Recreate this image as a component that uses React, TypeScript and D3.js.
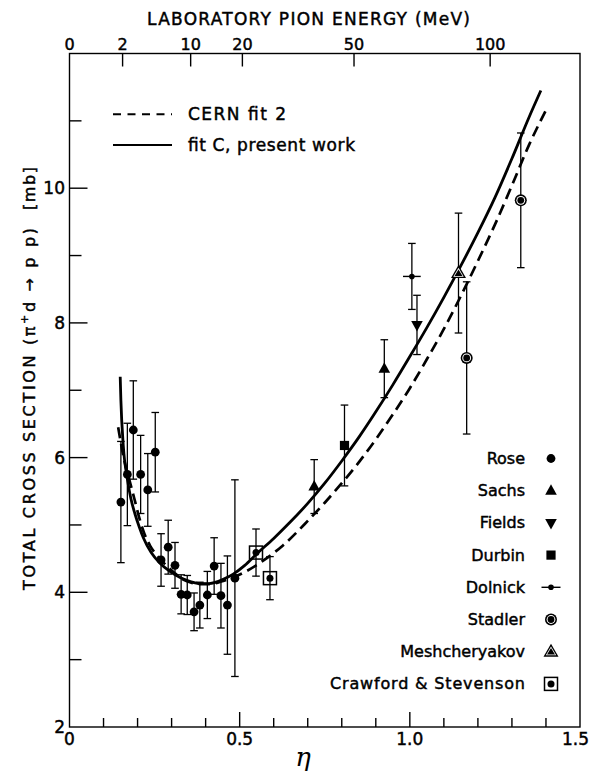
import React from 'react';
import * as d3 from 'd3';

const W = 590;
const H = 779;

// axes
const etaDomain: [number, number] = [0, 1.5];
const sigmaDomain: [number, number] = [2, 12];
const etaMinorTicks = [0.1, 0.2, 0.3, 0.4, 0.6, 0.7, 0.8, 0.9, 1.1, 1.2, 1.3, 1.4];
const etaMajorTicks = [0.5, 1.0];
const etaLabels = ['0', '0.5', '1.0', '1.5'];
const etaLabelValues = [0, 0.5, 1.0, 1.5];
const sigmaMajorTicks = [4, 6, 8, 10];
const sigmaMinorTicks = [3, 5, 7, 9, 11];
const sigmaLabels = [2, 4, 6, 8, 10];
// top axis: laboratory pion energy (MeV) and its position in eta
const energyLabels = [0, 2, 10, 20, 50, 100];
const energyEta = [0, 0.156, 0.356, 0.508, 0.836, 1.236];

// data: [eta, sigma (mb), error]
const rose = [
  [0.151, 5.34, 0.9],
  [0.17, 5.75, 0.76],
  [0.1875, 6.41, 0.73],
  [0.209, 5.75, 0.58],
  [0.23, 5.52, 0.54],
  [0.252, 6.08, 0.59],
  [0.269, 4.48, 0.39],
  [0.29, 4.67, 0.4],
  [0.31, 4.4, 0.34],
  [0.328, 3.97, 0.29],
  [0.346, 3.96, 0.29],
  [0.366, 3.71, 0.28],
  [0.383, 3.81, 0.34],
  [0.405, 3.96, 0.35],
  [0.425, 4.39, 0.42],
  [0.445, 3.95, 0.48],
  [0.464, 3.81, 0.73],
  [0.486, 4.21, 1.46],
];
const sachs = [
  [0.719, 5.57, 0.4],
  [0.925, 7.32, 0.43],
];
const fields = [[1.021, 7.97, 0.44]];
const durbin = [[0.808, 6.18, 0.6]];
const dolnick = [[1.006, 8.69, 0.49]];
const dolnickEtaErr = [0.026];
const stadler = [
  [1.167, 7.48, 1.13],
  [1.326, 9.82, 1.0],
];
const meshcheryakov = [[1.143, 8.74, 0.89]];
const crawford = [
  [0.548, 4.59, 0.35],
  [0.589, 4.21, 0.32],
];

// curves: [eta, sigma]
const fitC = [
  [0.149, 7.2], [0.151, 6.85], [0.158, 6.18], [0.17, 5.68], [0.18, 5.4],
  [0.192, 5.17], [0.205, 4.97], [0.217, 4.81], [0.24, 4.59], [0.266, 4.43],
  [0.295, 4.31], [0.325, 4.22], [0.355, 4.16], [0.383, 4.13], [0.41, 4.13],
  [0.43, 4.15], [0.455, 4.2], [0.481, 4.27], [0.515, 4.4], [0.55, 4.57],
  [0.6, 4.8], [0.65, 5.05], [0.7, 5.32], [0.75, 5.62], [0.8, 5.95],
  [0.85, 6.3], [0.9, 6.68], [0.95, 7.08], [1.0, 7.5], [1.05, 7.93],
  [1.1, 8.38], [1.15, 8.85], [1.2, 9.34], [1.25, 9.86], [1.3, 10.44],
  [1.35, 11.05], [1.385, 11.45],
];
const cernFit2 = [
  [0.143, 6.45], [0.16, 5.98], [0.178, 5.63], [0.19, 5.4], [0.207, 5.07],
  [0.22, 4.87], [0.237, 4.69], [0.26, 4.53], [0.286, 4.39], [0.31, 4.28],
  [0.334, 4.19], [0.36, 4.14], [0.383, 4.12], [0.41, 4.12], [0.452, 4.17],
  [0.511, 4.29], [0.569, 4.47], [0.628, 4.7], [0.7, 5.06], [0.75, 5.33],
  [0.8, 5.62], [0.85, 5.93], [0.9, 6.27], [0.95, 6.64], [1.0, 7.03],
  [1.05, 7.46], [1.1, 7.91], [1.15, 8.4], [1.2, 8.92], [1.25, 9.46],
  [1.3, 10.04], [1.35, 10.64], [1.4, 11.16],
];

const legendNames = ['Rose', 'Sachs', 'Fields', 'Durbin', 'Dolnick', 'Stadler', 'Meshcheryakov', 'Crawford & Stevenson'];
const legendTypes = ['circle', 'triUp', 'triDown', 'square', 'dolnick', 'stadler', 'mesh', 'crawford'];

const FONT = 'DejaVu Sans, Verdana, sans-serif';
const TXT = { fontFamily: FONT, stroke: '#000', strokeWidth: 0.45 } as const;

const x = d3.scaleLinear().domain(etaDomain).range([69.5, 580]);
const y = d3.scaleLinear().domain(sigmaDomain).range([727, 53.5]);

function Symbol({ type, cx, cy }: { type: string; cx: number; cy: number }) {
  switch (type) {
    case 'circle':
      return <circle cx={cx} cy={cy} r={4.4} fill="#000" />;
    case 'triUp':
      return <path d={`M${cx},${cy - 6.5}L${cx + 5.8},${cy + 4}L${cx - 5.8},${cy + 4}Z`} fill="#000" />;
    case 'triDown':
      return <path d={`M${cx},${cy + 6.5}L${cx + 5.8},${cy - 4}L${cx - 5.8},${cy - 4}Z`} fill="#000" />;
    case 'square':
      return <rect x={cx - 4.6} y={cy - 4.6} width={9.2} height={9.2} fill="#000" />;
    case 'dolnick':
      return (
        <g>
          <line x1={cx - 9.5} x2={cx + 9.5} y1={cy} y2={cy} stroke="#000" strokeWidth={1.4} />
          <circle cx={cx} cy={cy} r={2.8} fill="#000" />
        </g>
      );
    case 'stadler':
      return (
        <g>
          <circle cx={cx} cy={cy} r={6} fill="#000" />
          <circle cx={cx} cy={cy} r={4.4} fill="#fff" />
          <circle cx={cx} cy={cy} r={3.4} fill="#000" />
        </g>
      );
    case 'mesh':
      return (
        <g>
          <path d={`M${cx},${cy - 8}L${cx + 7.5},${cy + 5}L${cx - 7.5},${cy + 5}Z`} fill="#000" />
          <path d={`M${cx},${cy - 5.2}L${cx + 5.2},${cy + 3.6}L${cx - 5.2},${cy + 3.6}Z`} fill="#fff" />
          <path d={`M${cx},${cy - 3.6}L${cx + 4},${cy + 2.9}L${cx - 4},${cy + 2.9}Z`} fill="#000" />
        </g>
      );
    case 'crawford':
      return (
        <g>
          <rect x={cx - 6.5} y={cy - 6.5} width={13} height={13} fill="none" stroke="#000" strokeWidth={1.5} />
          <circle cx={cx} cy={cy} r={3.5} fill="#000" />
        </g>
      );
    default:
      return null;
  }
}

function ErrBar({ eta, s, e }: { eta: number; s: number; e: number }) {
  const px = x(eta);
  const y1 = y(s + e);
  const y2 = y(s - e);
  const cw = 3.8;
  return (
    <g stroke="#000" strokeWidth={1.3}>
      <line x1={px} x2={px} y1={y1} y2={y2} />
      <line x1={px - cw} x2={px + cw} y1={y1} y2={y1} />
      <line x1={px - cw} x2={px + cw} y1={y2} y2={y2} />
    </g>
  );
}

function Series({ data, type }: { data: number[][]; type: string }) {
  return (
    <g>
      {data.map((d, i) => (
        <g key={i}>
          <ErrBar eta={d[0]} s={d[1]} e={d[2]} />
          <Symbol type={type} cx={x(d[0])} cy={y(d[1])} />
        </g>
      ))}
    </g>
  );
}

export default function App() {
  const line = d3
    .line<number[]>()
    .x((d) => x(d[0]))
    .y((d) => y(d[1]))
    .curve(d3.curveMonotoneX);

  const x0 = x(0);
  const x1 = x(1.5);
  const yb = y(2);
  const yt = y(12);

  return (
    <div style={{ position: 'absolute', left: 0, top: 0 }}>
      <svg width={W} height={H} viewBox={`0 0 ${W} ${H}`} style={{ display: 'block', background: '#fff' }}>
        <rect x={0} y={0} width={W} height={H} fill="#fff" />
        {/* frame */}
        <rect x={x0} y={yt} width={x1 - x0} height={yb - yt} fill="none" stroke="#000" strokeWidth={1.4} />

        {/* bottom ticks */}
        {etaMinorTicks.map((t) => (
          <line key={'bm' + t} x1={x(t)} x2={x(t)} y1={yb} y2={yb - 9} stroke="#000" strokeWidth={1.4} />
        ))}
        {etaMajorTicks.map((t) => (
          <line key={'bM' + t} x1={x(t)} x2={x(t)} y1={yb} y2={yb - 15} stroke="#000" strokeWidth={1.4} />
        ))}
        {etaLabels.map((l, i) => (
          <text
            key={'bl' + l}
            x={i === etaLabels.length - 1 ? 589 : x(etaLabelValues[i])}
            y={745}
            textAnchor={i === etaLabels.length - 1 ? 'end' : 'middle'}
            fontSize={17}
            {...TXT}
          >
            {l}
          </text>
        ))}

        {/* left ticks */}
        {sigmaMajorTicks.map((t) => (
          <line key={'lM' + t} x1={x0} x2={x0 + 18} y1={y(t)} y2={y(t)} stroke="#000" strokeWidth={1.4} />
        ))}
        {sigmaMinorTicks.map((t) => (
          <line key={'lm' + t} x1={x0} x2={x0 + 12} y1={y(t)} y2={y(t)} stroke="#000" strokeWidth={1.4} />
        ))}
        {sigmaLabels.map((t) => (
          <text key={'ll' + t} x={65} y={y(t)} dy="0.36em" textAnchor="end" fontSize={17} {...TXT}>
            {t}
          </text>
        ))}

        {/* top axis */}
        {energyEta.map((e, i) => (
          <g key={'t' + i}>
            {i > 0 && <line x1={x(e)} x2={x(e)} y1={yt} y2={yt + 13} stroke="#000" strokeWidth={1.4} />}
            <text x={x(e)} y={50} textAnchor="middle" fontSize={16} {...TXT}>
              {energyLabels[i]}
            </text>
          </g>
        ))}
        <text x={147} y={25} fontSize={17} textLength={323} lengthAdjust="spacing" {...TXT}>
          LABORATORY PION ENERGY (MeV)
        </text>

        {/* axis titles */}
        <text x={303} y={766} textAnchor="middle" fontFamily="DejaVu Serif, serif" fontStyle="italic" fontSize={26}>
          η
        </text>
        <g transform="translate(35,590) rotate(-90)">
          <text x={0} y={0} fontSize={16} textLength={362} lengthAdjust="spacing" {...TXT}>
            TOTAL CROSS SECTION (π<tspan dy={-7} fontSize={11}>+</tspan>
            <tspan dy={7}>d → p p)</tspan>
          </text>
          <text x={380} y={0} fontSize={16} textLength={43} lengthAdjust="spacing" {...TXT}>
            [mb]
          </text>
        </g>

        {/* top-left legend */}
        <line x1={113} x2={172} y1={114.3} y2={114.3} stroke="#000" strokeWidth={2} strokeDasharray="8 6.5" />
        <text x={188} y={120} fontSize={17} textLength={98} lengthAdjust="spacing" {...TXT}>
          CERN fit 2
        </text>
        <line x1={113} x2={172} y1={145} y2={145} stroke="#000" strokeWidth={2.2} />
        <text x={188} y={150.5} fontSize={17} textLength={167} lengthAdjust="spacing" {...TXT}>
          fit C, present work
        </text>

        {/* curves */}
        <path d={line(cernFit2) || ''} fill="none" stroke="#000" strokeWidth={2.7} strokeDasharray="11 6" />
        <path d={line(fitC) || ''} fill="none" stroke="#000" strokeWidth={2.8} />

        {/* data */}
        <Series data={rose} type="circle" />
        <Series data={crawford} type="crawford" />
        <Series data={sachs} type="triUp" />
        <Series data={durbin} type="square" />
        <Series data={fields} type="triDown" />
        <Series data={meshcheryakov} type="mesh" />
        <Series data={stadler} type="stadler" />
        {dolnick.map((d, i) => (
          <g key={'dol' + i}>
            <ErrBar eta={d[0]} s={d[1]} e={d[2]} />
            <line x1={x(d[0] - dolnickEtaErr[i])} x2={x(d[0] + dolnickEtaErr[i])} y1={y(d[1])} y2={y(d[1])} stroke="#000" strokeWidth={1.4} />
            <circle cx={x(d[0])} cy={y(d[1])} r={2.8} fill="#000" />
          </g>
        ))}

        {/* right legend */}
        {legendNames.map((n, i) => {
          const by = 464 + i * 32.2;
          return (
            <g key={'lg' + n}>
              {n === 'Crawford & Stevenson' ? (
                <text x={525} y={by} textAnchor="end" fontSize={16} textLength={195} lengthAdjust="spacing" {...TXT}>
                  {n}
                </text>
              ) : (
                <text x={525} y={by} textAnchor="end" fontSize={16} {...TXT}>
                  {n}
                </text>
              )}
              <Symbol type={legendTypes[i]} cx={551} cy={by - 5.5} />
            </g>
          );
        })}
      </svg>
    </div>
  );
}
